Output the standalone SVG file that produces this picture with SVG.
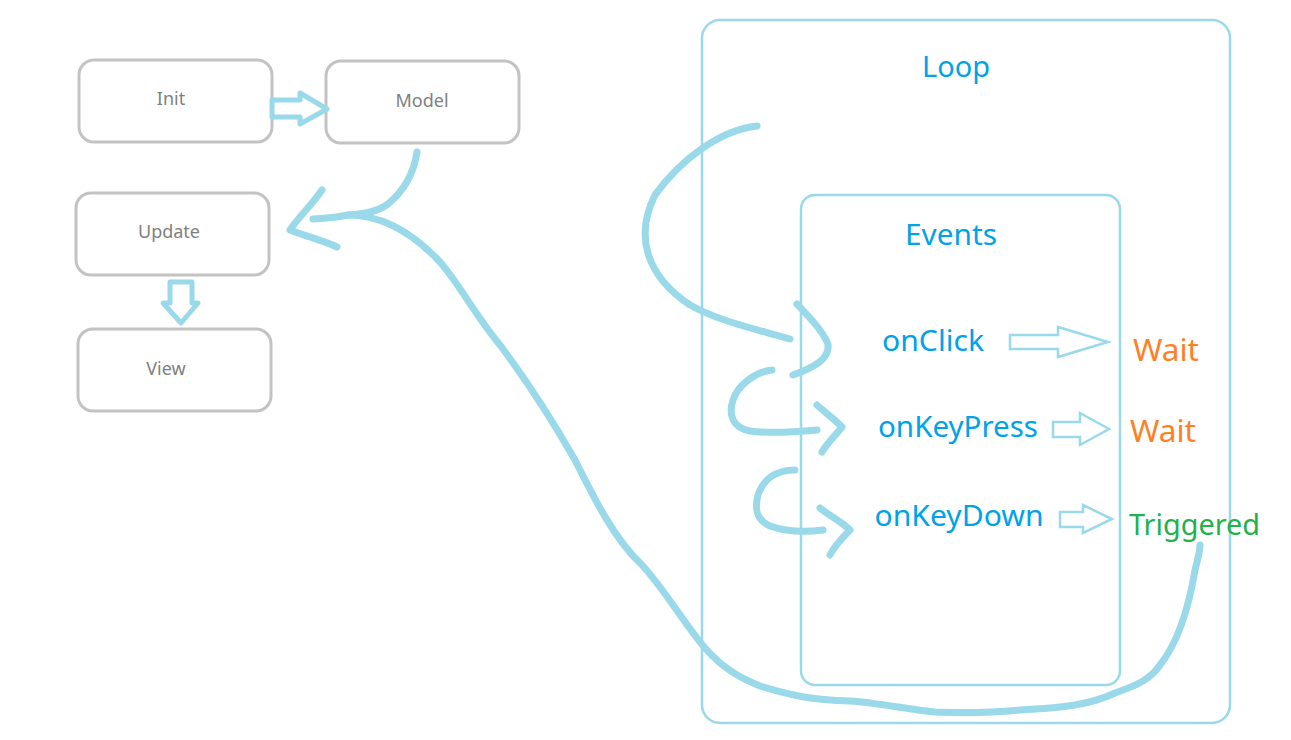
<svg xmlns="http://www.w3.org/2000/svg" width="1291" height="740" viewBox="0 0 1291 740">
<style>
.box{fill:#fff;stroke:#c3c3c3;stroke-width:3}
.gt{font-family:"Noto Sans","Open Sans",sans-serif;font-size:18px;fill:#7f7f7f;text-anchor:middle}
.frame{fill:none;stroke:#99d9ea;stroke-width:2.5}
.bt{font-family:"Noto Sans","Open Sans",sans-serif;font-size:29.5px;fill:#00a2e8;text-anchor:middle}
.ot{font-family:"Noto Sans","Open Sans",sans-serif;font-size:30px;fill:#ff7f27}
.grt{font-family:"Noto Sans","Open Sans",sans-serif;font-size:29px;fill:#22b14c}
.hol{fill:#fff;stroke:#99d9ea;stroke-width:2.5;stroke-linejoin:miter}
.thk{fill:#fff;stroke:#99d9ea;stroke-width:5;stroke-linejoin:round}
.pen{fill:none;stroke:#99d9ea;stroke-width:7;stroke-linecap:round;stroke-linejoin:round}
</style>
<rect width="1291" height="740" fill="#fff"/>
<g id="loop">
<rect class="frame" x="702" y="20" width="528" height="703" rx="18"/>
<text class="bt" x="956" y="77" textLength="68" lengthAdjust="spacingAndGlyphs">Loop</text>
</g>
<g id="events">
<rect class="frame" x="801" y="195" width="319" height="490" rx="14"/>
<text class="bt" x="951" y="245" textLength="92" lengthAdjust="spacingAndGlyphs">Events</text>
</g>
<g id="init"><rect class="box" x="79" y="60" width="193" height="82" rx="15"/><text class="gt" x="171" y="105">Init</text></g>
<g id="model"><rect class="box" x="326" y="61" width="193" height="82" rx="15"/><text class="gt" x="422" y="107">Model</text></g>
<g id="update"><rect class="box" x="76" y="193" width="193" height="82" rx="15"/><text class="gt" x="169" y="238">Update</text></g>
<g id="view"><rect class="box" x="78" y="329" width="193" height="82" rx="15"/><text class="gt" x="166" y="375">View</text></g>
<g id="onclick"><text class="bt" x="933" y="351" textLength="102" lengthAdjust="spacingAndGlyphs">onClick</text></g>
<g id="onkeypress"><text class="bt" x="958" y="437" textLength="160" lengthAdjust="spacingAndGlyphs">onKeyPress</text></g>
<g id="onkeydown"><text class="bt" x="959" y="526" textLength="169" lengthAdjust="spacingAndGlyphs">onKeyDown</text></g>
<g id="wait1"><text class="ot" x="1133" y="361" textLength="66" lengthAdjust="spacingAndGlyphs">Wait</text></g>
<g id="wait2"><text class="ot" x="1130" y="442" textLength="66" lengthAdjust="spacingAndGlyphs">Wait</text></g>
<g id="triggered"><text class="grt" x="1129" y="535" textLength="131" lengthAdjust="spacingAndGlyphs">Triggered</text></g>
<g id="connectors">
<path class="thk" d="M272,100 L300,100 L300,93 L327,109 L300,124 L300,117 L272,117 Z"/>
<path class="thk" d="M170,282 L192,282 L192,303 L198,303 L181,323 L163,303 L170,303 Z"/>
<path class="hol" d="M1010,335 L1058,335 L1058,327 L1108,342 L1058,357 L1058,349 L1010,349 Z"/>
<path class="hol" d="M1053,422 L1080,422 L1080,413 L1109,429 L1080,445 L1080,437 L1053,437 Z"/>
<path class="hol" d="M1060,512 L1083,512 L1083,505 L1112,519 L1083,533 L1083,527 L1060,527 Z"/>
<path class="pen" d="M417,152 C414,172 405,190 388,204 C375,213 362,214 348,215 C335,218 325,218 313,219"/>
<path class="pen" d="M322,190 C312,205 300,215 290,230 C305,236 322,240 337,247"/>
<path class="pen" d="M348,215 C380,215 410,230 440,262 C460,285 475,315 500,345 C530,385 555,425 575,460 C595,500 615,540 642,565 C665,590 685,625 705,648 C720,665 735,676 760,686 C790,695 810,700 850,701 C880,703 910,710 935,712 C960,713 990,713 1020,710 C1060,708 1090,705 1115,693 C1135,686 1150,680 1160,665 C1180,640 1190,600 1195,570 C1199,555 1200,550 1200,545"/>
<path class="pen" d="M757,126 C720,130 680,160 655,195 C635,235 645,275 690,305 C720,322 760,330 790,339"/>
<path class="pen" d="M797,304 C810,318 822,330 828,344 C830,360 812,368 793,375"/>
<path class="pen" d="M772,370 C755,372 738,385 733,400 C728,415 733,428 750,431 C770,434 795,432 817,430"/>
<path class="pen" d="M817,405 C826,413 835,420 842,427 C835,436 827,443 822,452"/>
<path class="pen" d="M795,470 C775,470 763,480 758,495 C754,510 757,520 770,526 C790,533 808,532 823,530"/>
<path class="pen" d="M820,508 C830,516 842,522 850,530 C842,538 835,545 830,555"/>
</g>
</svg>
